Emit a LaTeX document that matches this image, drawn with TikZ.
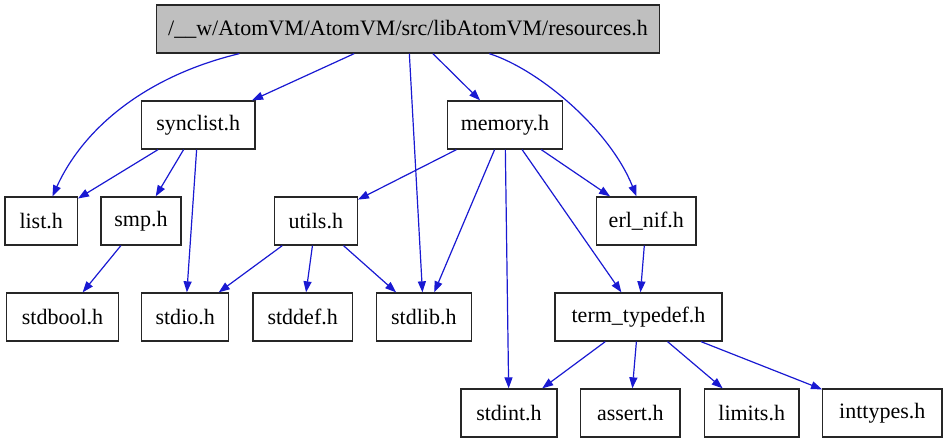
\documentclass[tikz,border=0pt]{standalone}
\usepackage{fontspec}
\setmainfont{Liberation Serif}
\usetikzlibrary{arrows.meta}
\definecolor{edgeblue}{RGB}{25,25,210}
\definecolor{rootgray}{RGB}{191,191,191}
\tikzset{
  filebox/.style={draw=black!85, line width=1.3pt, fill=white, rectangle, inner sep=0pt,
    minimum height=48pt, font=\fontsize{22}{26}\selectfont, text=black},
  rootbox/.style={filebox, fill=rootgray},
  edge/.style={draw=edgeblue, line width=1.2pt, -{Triangle[length=11pt,width=8pt]}}
}
\begin{document}
\begin{tikzpicture}[x=1pt,y=-1pt]
\useasboundingbox (0,0) rectangle (947,443);
% nodes
\node[rootbox, minimum width=502.6pt] (root) at (408,29) {/\_\_w/AtomVM/AtomVM/src/libAtomVM/resources.h};
\node[filebox, minimum width=113.3pt] (synclist) at (198.3,125) {synclist.h};
\node[filebox, minimum width=114.6pt] (memory) at (505,125) {memory.h};
\node[filebox, minimum width=72.3pt] (list) at (41.2,221) {list.h};
\node[filebox, minimum width=80pt] (smp) at (141,221) {smp.h};
\node[filebox, minimum width=83pt] (utils) at (315.8,221) {utils.h};
\node[filebox, minimum width=99.3pt] (erlnif) at (646.3,221) {erl\_nif.h};
\node[filebox, minimum width=111.6pt] (stdbool) at (62.5,317) {stdbool.h};
\node[filebox, minimum width=87pt] (stdio) at (185.2,317) {stdio.h};
\node[filebox, minimum width=99.3pt] (stddef) at (302.7,317) {stddef.h};
\node[filebox, minimum width=95pt] (stdlib) at (423.8,317) {stdlib.h};
\node[filebox, minimum width=167pt] (termtypedef) at (638.5,317) {term\_typedef.h};
\node[filebox, minimum width=96pt] (stdint) at (509,413) {stdint.h};
\node[filebox, minimum width=99.3pt] (assert) at (630.3,413) {assert.h};
\node[filebox, minimum width=94.7pt] (limits) at (751.7,413) {limits.h};
\node[filebox, minimum width=119.3pt] (inttypes) at (882.3,413) {inttypes.h};
% edges
\draw[edge] ([xshift=83.3pt]root.south west) .. controls (150,75) and (85,125) .. (list);
\draw[edge] (root) -- (synclist);
\draw[edge] (root) -- (stdlib);
\draw[edge] (root) -- (memory);
\draw[edge] ([xshift=333.3pt]root.south west) .. controls (540,70) and (610,130) .. (erlnif);
\draw[edge] (synclist) -- (list);
\draw[edge] (synclist) -- (smp);
\draw[edge] (synclist) -- (stdio);
\draw[edge] (smp) -- (stdbool);
\draw[edge] (memory) -- (utils);
\draw[edge] (memory) -- (stdlib);
\draw[edge] (memory) -- (stdint);
\draw[edge] (memory) -- (termtypedef);
\draw[edge] (memory) -- (erlnif);
\draw[edge] (utils) -- (stdio);
\draw[edge] (utils) -- (stddef);
\draw[edge] (utils) -- (stdlib);
\draw[edge] (erlnif) -- (termtypedef);
\draw[edge] (termtypedef) -- (stdint);
\draw[edge] (termtypedef) -- (assert);
\draw[edge] (termtypedef) -- (limits);
\draw[edge] (termtypedef) -- (inttypes);
\end{tikzpicture}
\end{document}
